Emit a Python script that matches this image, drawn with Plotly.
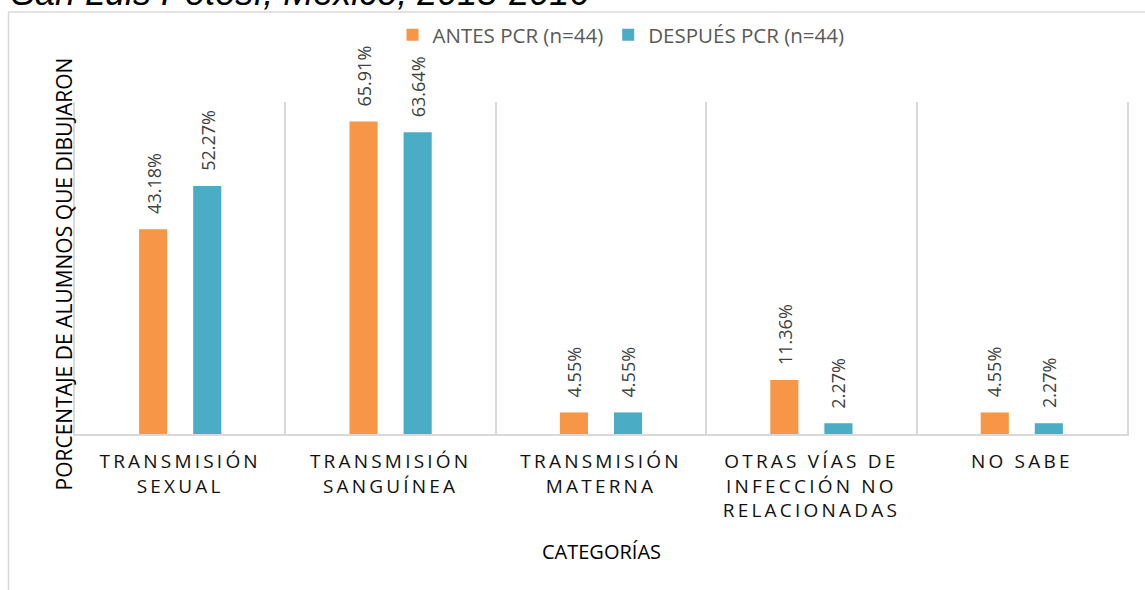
import plotly.graph_objects as go

# ---- data ----
categories = ["TRANSMISIÓN SEXUAL", "TRANSMISIÓN SANGUÍNEA", "TRANSMISIÓN MATERNA",
              "OTRAS VÍAS DE INFECCIÓN NO RELACIONADAS", "NO SABE"]
tick_labels = ["TRANSMISIÓN<br>SEXUAL", "TRANSMISIÓN<br>SANGUÍNEA", "TRANSMISIÓN<br>MATERNA",
               "OTRAS VÍAS DE<br>INFECCIÓN NO<br>RELACIONADAS", "NO SABE"]
antes = [43.18, 65.91, 4.55, 11.36, 4.55]
despues = [52.27, 63.64, 4.55, 2.27, 2.27]
series_names = ["ANTES PCR (n=44)", "DESPUÉS PCR (n=44)"]
title_text = "San Luis Potosí, México, 2015-2016"
y_title = "PORCENTAJE DE ALUMNOS QUE DIBUJARON"
x_title = "CATEGORÍAS"

# ---- style ----
W, H = 1145, 590
L, R, T, B = 75, 18, 102, 156
PW, PH = W - L - R, H - T - B
ORANGE = "#F79646"
BLUE = "#4BACC6"
GRID = "#d9d9d9"
FONT = "Open Sans"


def px_x(x):
    return (x - L) / PW


def px_y(y):
    return (H - B - y) / PH


fig = go.Figure()
series = [(series_names[0], antes, ORANGE), (series_names[1], despues, BLUE)]
for name, vals, col in series:
    fig.add_trace(go.Bar(x=categories, y=vals, name=name,
                         marker=dict(color=col, line=dict(width=0))))

annotations = []
for k, (name, vals, col) in enumerate(series):
    shift = -27 if k == 0 else 27
    for c, v in zip(categories, vals):
        annotations.append(dict(
            x=c, y=v, xref="x", yref="y", text=f"{v:.2f}%", showarrow=False,
            textangle=-90, xanchor="center", yanchor="bottom",
            xshift=shift, yshift=13,
            font=dict(family=FONT, size=18, color="#404040")))

# title (partially cut at top, as in the reference)
annotations.append(dict(
    x=px_x(9), y=px_y(14.6), xref="paper", yref="paper", text=title_text,
    showarrow=False, xanchor="left", yanchor="bottom",
    font=dict(family="Liberation Sans, Arial", size=36, color="#000000", style="italic")))
# y-axis title
annotations.append(dict(
    x=px_x(63.5), y=px_y(274), xref="paper", yref="paper", text=y_title,
    showarrow=False, textangle=-90, xanchor="center", yanchor="middle",
    font=dict(family=FONT, size=21, color="#000000")))
# x-axis title
annotations.append(dict(
    x=px_x(601), y=px_y(551), xref="paper", yref="paper", text=x_title,
    showarrow=False, xanchor="center", yanchor="middle",
    font=dict(family=FONT, size=20, color="#000000")))

shapes = [
    dict(type="line", xref="paper", yref="paper", x0=px_x(8.5), x1=px_x(1200),
         y0=px_y(12), y1=px_y(12), line=dict(color=GRID, width=1.5)),
    dict(type="line", xref="paper", yref="paper", x0=px_x(8.5), x1=px_x(8.5),
         y0=px_y(12), y1=px_y(650), line=dict(color=GRID, width=1.5)),
]

fig.update_layout(
    width=W, height=H,
    margin=dict(l=L, r=R, t=T, b=B, pad=0),
    paper_bgcolor="white", plot_bgcolor="white",
    barmode="group", bargap=0.486, bargroupgap=0.48,
    showlegend=True,
    legend=dict(orientation="h", x=px_x(621), y=px_y(35), xanchor="center", yanchor="middle",
                font=dict(family=FONT, size=20.5, color="#595959"), bgcolor="rgba(0,0,0,0)"),
    xaxis=dict(type="category", tickvals=categories, ticktext=tick_labels,
               tickson="boundaries", showgrid=True, gridcolor=GRID, gridwidth=2,
               showline=True, linecolor=GRID, linewidth=2, ticks="",
               ticklabelstandoff=9,
               tickfont=dict(family=FONT, size=19, color="#111111"),
               range=[-0.5, 4.5], fixedrange=True),
    yaxis=dict(range=[0, 70], visible=True, showticklabels=False, showgrid=False,
               zeroline=False, ticks="", showline=True, mirror=True,
               linecolor=GRID, linewidth=2, fixedrange=True),
    annotations=annotations,
    shapes=shapes,
)

post = ("document.body.style.margin='0';"
        "document.querySelectorAll('.xtick text').forEach(function(t){t.style.letterSpacing='3.2px';});")
fig.write_html("out.html", post_script=post, config={"displayModeBar": False})
